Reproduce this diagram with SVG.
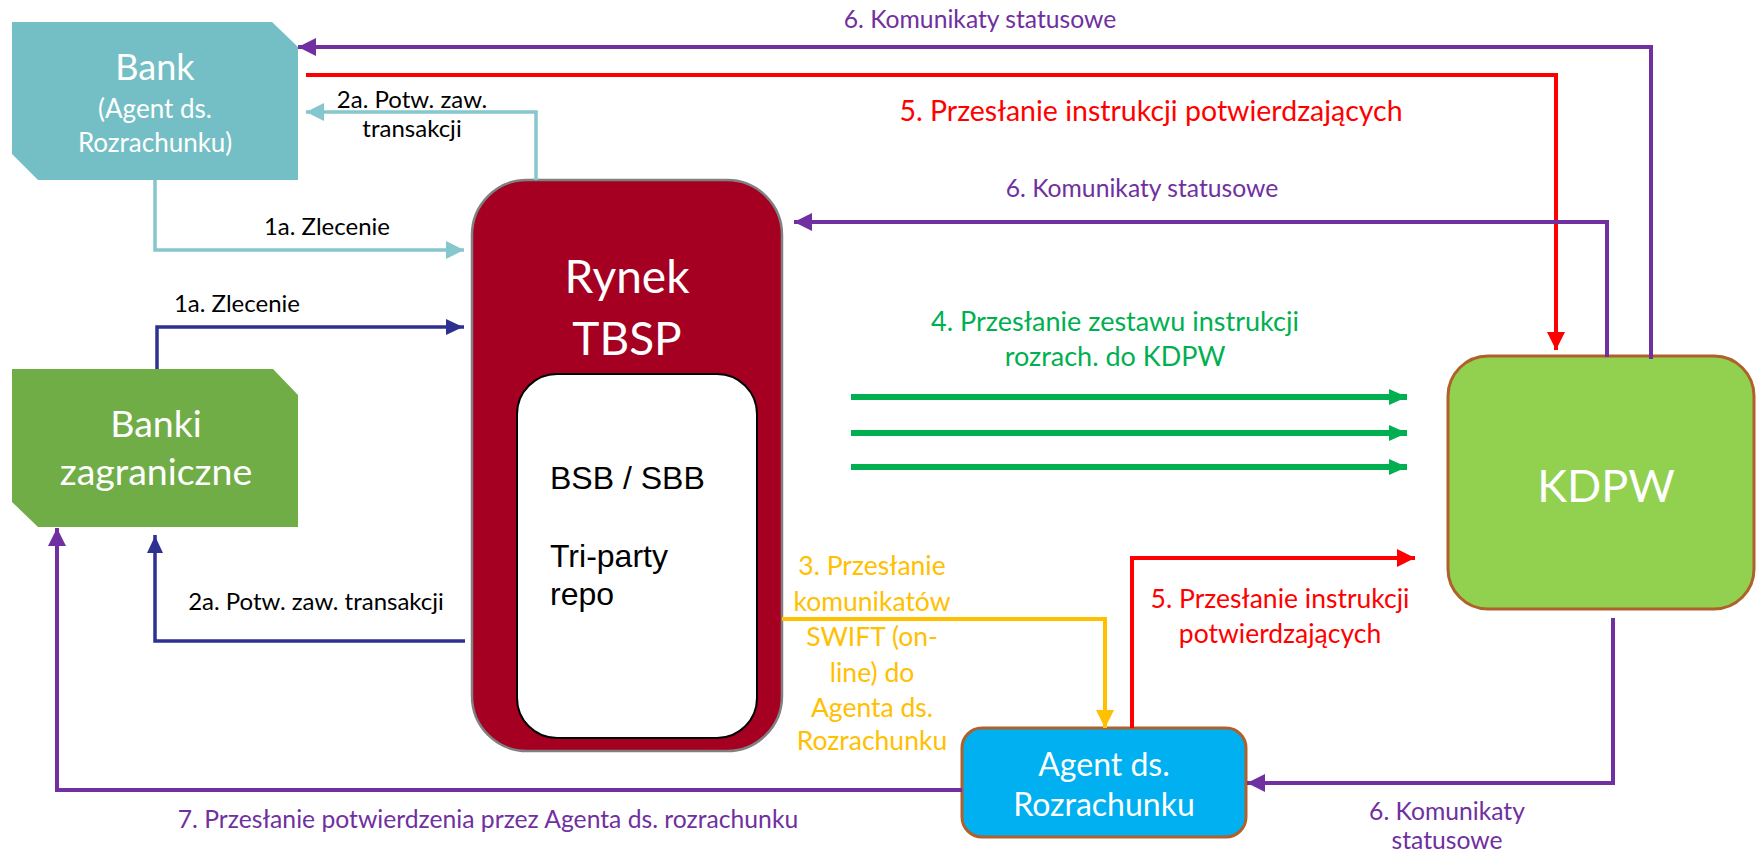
<svg xmlns="http://www.w3.org/2000/svg" width="1756" height="853" viewBox="0 0 1756 853">
<style>
text{font-family:Lato,"Liberation Sans",sans-serif}
.w{fill:#fff}
.big{font-size:36px}
.mid{font-size:26px}
.lbl{font-size:24px;fill:#000}
.pur{font-size:24.7px;fill:#7030A0}
.red{font-size:26.5px;fill:#FF0000}
.yel{font-size:26.5px;fill:#FFC000}
.grn{font-size:27px;fill:#00B050}
.arial{font-family:"Liberation Sans",Arial,sans-serif;font-size:32px;fill:#000}
.c{fill:none;stroke-linejoin:miter}
</style>
<defs>
<marker id="aPur" markerUnits="userSpaceOnUse" markerWidth="20" markerHeight="18" refX="18" refY="9" orient="auto"><path d="M0,0 L18,9 L0,18 z" fill="#7030A0"/></marker>
<marker id="aRed" markerUnits="userSpaceOnUse" markerWidth="20" markerHeight="18" refX="18" refY="9" orient="auto"><path d="M0,0 L18,9 L0,18 z" fill="#FF0000"/></marker>
<marker id="aTeal" markerUnits="userSpaceOnUse" markerWidth="20" markerHeight="18" refX="18" refY="9" orient="auto"><path d="M0,0 L18,9 L0,18 z" fill="#86C6CD"/></marker>
<marker id="aBlue" markerUnits="userSpaceOnUse" markerWidth="20" markerHeight="18" refX="18" refY="9" orient="auto"><path d="M0,1 L17,9 L0,17 z" fill="#2E3192"/></marker>
<marker id="aGrn" markerUnits="userSpaceOnUse" markerWidth="20" markerHeight="18" refX="18" refY="9" orient="auto"><path d="M0,1 L18,9 L0,17 z" fill="#00B050"/></marker>
<marker id="aYel" markerUnits="userSpaceOnUse" markerWidth="20" markerHeight="18" refX="18" refY="9" orient="auto"><path d="M0,0 L18,9 L0,18 z" fill="#FFC000"/></marker>
</defs>
<rect width="1756" height="853" fill="#fff"/>

<g id="bank">
<polygon points="12,22 272,22 298,47 298,180 38,180 12,154" fill="#74BFC5"/>
<text class="w big" x="155" y="80" text-anchor="middle">Bank</text>
<text class="w mid" x="155" y="118" text-anchor="middle">(Agent ds.</text>
<text class="w mid" x="155" y="152" text-anchor="middle">Rozrachunku)</text>
</g>

<g id="banki-zagraniczne">
<polygon points="12,369 273,369 298,395 298,527 38,527 12,502" fill="#70AD47"/>
<text class="w" style="font-size:37.5px" x="156" y="437" text-anchor="middle">Banki</text>
<text class="w" style="font-size:37.5px" x="156" y="485" text-anchor="middle">zagraniczne</text>
</g>

<g id="rynek-tbsp">
<rect x="472" y="180" width="310" height="571" rx="55" fill="#A50021" stroke="#808080" stroke-width="2.5"/>
<rect x="517" y="374" width="240" height="364" rx="40" fill="#fff" stroke="#000" stroke-width="2"/>
<text class="w" style="font-size:46px" x="627" y="293" text-anchor="middle">Rynek</text>
<text class="w" style="font-size:46px" x="627" y="355" text-anchor="middle">TBSP</text>
<text class="arial" x="550" y="489">BSB / SBB</text>
<text class="arial" x="550" y="567">Tri-party</text>
<text class="arial" x="550" y="605">repo</text>
</g>

<g id="kdpw">
<rect x="1448" y="356" width="306" height="253" rx="40" fill="#92D050" stroke="#B0602A" stroke-width="3"/>
<text class="w" style="font-size:45px" x="1606" y="502" text-anchor="middle">KDPW</text>
</g>

<g id="agent">
<rect x="962" y="728" width="284" height="109" rx="20" fill="#00B0F0" stroke="#B0602A" stroke-width="3"/>
<text class="w" style="font-size:32px" x="1104" y="776" text-anchor="middle">Agent ds.</text>
<text class="w" style="font-size:32px" x="1104" y="816" text-anchor="middle">Rozrachunku</text>
</g>

<g id="connectors">
<path class="c" d="M1651,359 V47 H298" stroke="#7030A0" stroke-width="4" marker-end="url(#aPur)"/>
<path class="c" d="M306,75 H1556 V350" stroke="#FF0000" stroke-width="4" marker-end="url(#aRed)"/>
<path class="c" d="M1607,357 V222 H794" stroke="#7030A0" stroke-width="4" marker-end="url(#aPur)"/>
<path class="c" d="M536,180 V112 H306" stroke="#86C6CD" stroke-width="3.5" marker-end="url(#aTeal)"/>
<path class="c" d="M155,180 V250 H464" stroke="#86C6CD" stroke-width="3.5" marker-end="url(#aTeal)"/>
<path class="c" d="M157,369 V327 H464" stroke="#2E3192" stroke-width="3.5" marker-end="url(#aBlue)"/>
<path class="c" d="M465,641 H155 V535" stroke="#2E3192" stroke-width="3.5" marker-end="url(#aBlue)"/>
<path class="c" d="M962,790 H57 V528" stroke="#7030A0" stroke-width="4" marker-end="url(#aPur)"/>
<path class="c" d="M782,619 H1105 V728" stroke="#FFC000" stroke-width="4" marker-end="url(#aYel)"/>
<path class="c" d="M1132,728 V558 H1415" stroke="#FF0000" stroke-width="4" marker-end="url(#aRed)"/>
<path class="c" d="M1613,618 V783 H1247" stroke="#7030A0" stroke-width="4" marker-end="url(#aPur)"/>
<path class="c" d="M851,397 H1407" stroke="#00B050" stroke-width="6" marker-end="url(#aGrn)"/>
<path class="c" d="M851,433 H1407" stroke="#00B050" stroke-width="6" marker-end="url(#aGrn)"/>
<path class="c" d="M851,467 H1407" stroke="#00B050" stroke-width="6" marker-end="url(#aGrn)"/>
</g>

<g id="labels">
<text class="pur" x="980" y="28" text-anchor="middle">6. Komunikaty statusowe</text>
<text class="red" style="font-size:28.5px" x="1151" y="121" text-anchor="middle">5. Przesłanie instrukcji potwierdzających</text>
<text class="pur" x="1142" y="197" text-anchor="middle">6. Komunikaty statusowe</text>
<text class="lbl" x="412" y="108" text-anchor="middle">2a. Potw. zaw.</text>
<text class="lbl" x="412" y="137" text-anchor="middle">transakcji</text>
<text class="lbl" x="327" y="235" text-anchor="middle">1a. Zlecenie</text>
<text class="lbl" x="237" y="312" text-anchor="middle">1a. Zlecenie</text>
<text class="grn" x="1115" y="331" text-anchor="middle">4. Przesłanie zestawu instrukcji</text>
<text class="grn" x="1115" y="366" text-anchor="middle">rozrach. do KDPW</text>
<text class="lbl" x="316" y="610" text-anchor="middle">2a. Potw. zaw. transakcji</text>
<text class="yel" x="872" y="575" text-anchor="middle">3. Przesłanie</text>
<text class="yel" x="872" y="611" text-anchor="middle">komunikatów</text>
<text class="yel" x="872" y="646" text-anchor="middle">SWIFT (on-</text>
<text class="yel" x="872" y="682" text-anchor="middle">line) do</text>
<text class="yel" x="872" y="717" text-anchor="middle">Agenta ds.</text>
<text class="yel" x="872" y="750" text-anchor="middle">Rozrachunku</text>
<text class="red" x="1280" y="608" text-anchor="middle">5. Przesłanie instrukcji</text>
<text class="red" x="1280" y="643" text-anchor="middle">potwierdzających</text>
<text class="pur" x="1447" y="820" text-anchor="middle">6. Komunikaty</text>
<text class="pur" x="1447" y="849" text-anchor="middle">statusowe</text>
<text class="pur" x="488" y="828" text-anchor="middle">7. Przesłanie potwierdzenia przez Agenta ds. rozrachunku</text>
</g>
</svg>
